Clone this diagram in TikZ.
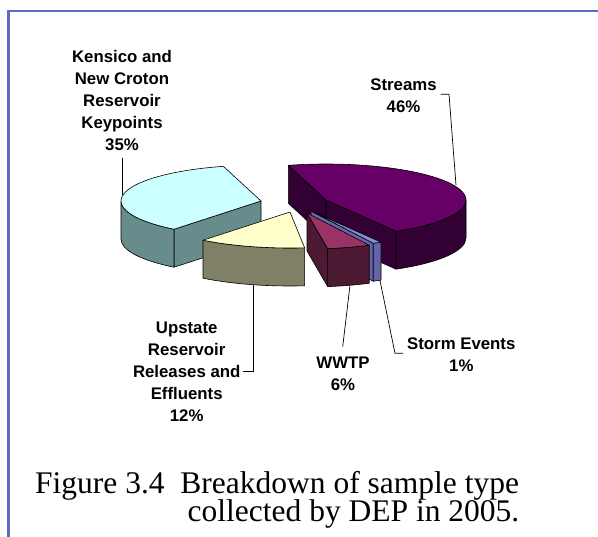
\documentclass[tikz,border=0pt]{standalone}
\usepackage{fontspec}
\setmainfont{Liberation Serif}
\newfontfamily\lblfont{Liberation Sans}
\definecolor{kensTop}{RGB}{204,255,255}
\definecolor{kensSide}{RGB}{102,140,140}
\definecolor{strTop}{RGB}{102,0,102}
\definecolor{strSide}{RGB}{51,0,51}
\definecolor{upTop}{RGB}{255,255,204}
\definecolor{upSide}{RGB}{128,128,102}
\definecolor{wwTop}{RGB}{153,51,102}
\definecolor{wwSide}{RGB}{77,26,51}
\definecolor{stTop}{RGB}{140,140,220}
\definecolor{stSide}{RGB}{100,100,170}
\definecolor{frameblue}{RGB}{92,106,206}
\tikzset{
  face/.style={draw=black, line width=0.6pt, line join=round},
  lbl/.style={font=\lblfont\bfseries\fontsize{16.8}{22}\selectfont, align=center, inner sep=0pt},
  leader/.style={draw=black, line width=0.7pt},
  captext/.style={font=\fontsize{31.5}{31.5}\selectfont, inner sep=0pt},
}
\begin{document}
\begin{tikzpicture}[x=1pt, y=-1pt]
\useasboundingbox (0,0) rectangle (598,537);
% frame
\draw[frameblue, line width=2.4pt] (8.3,537) -- (8.3,11) -- (598,11);

% Kensico slice
\begin{scope}[shift={(261,201)}, y={(0,1pt)}]
  \path[face, fill=kensSide] (0,0) -- (231.6:140pt and 36pt) -- ++(0,-38) -- (0,-38) -- cycle;
  \path[face, fill=kensSide] (180:140pt and 36pt) arc[start angle=180, end angle=231.6, x radius=140pt, y radius=36pt] -- ++(0,-38) arc[start angle=231.6, end angle=180, x radius=140pt, y radius=36pt] -- cycle;
  \path[face, fill=kensTop] (0,0) -- (105.6:140pt and 36pt) arc[start angle=105.6, end angle=231.6, x radius=140pt, y radius=36pt] -- cycle;
\end{scope}

% Streams slice
\begin{scope}[shift={(326,200)}, y={(0,1pt)}]
  \path[face, fill=strSide] (0,0) -- (105.6:140pt and 36pt) -- ++(0,-38) -- (0,-38) -- cycle;
  \path[face, fill=strSide] (0,0) -- (-60:140pt and 36pt) -- ++(0,-38) -- (0,-38) -- cycle;
  \path[face, fill=strSide] (-60:140pt and 36pt) arc[start angle=-60, end angle=0, x radius=140pt, y radius=36pt] -- ++(0,-38) arc[start angle=0, end angle=-60, x radius=140pt, y radius=36pt] -- cycle;
  \path[face, fill=strTop] (0,0) -- (-60:140pt and 36pt) arc[start angle=-60, end angle=105.6, x radius=140pt, y radius=36pt] -- cycle;
\end{scope}

% Storm Events slice
\begin{scope}[shift={(311,211)}, y={(0,1pt)}]
  \path[face, fill=stSide] (0,0) -- (296.4:140pt and 36pt) -- ++(0,-38) -- (0,-38) -- cycle;
  \path[face, fill=stSide] (296.4:140pt and 36pt) arc[start angle=296.4, end angle=300, x radius=140pt, y radius=36pt] -- ++(0,-38) arc[start angle=300, end angle=296.4, x radius=140pt, y radius=36pt] -- cycle;
  \path[face, fill=stTop] (0,0) -- (296.4:140pt and 36pt) arc[start angle=296.4, end angle=300, x radius=140pt, y radius=36pt] -- cycle;
\end{scope}

% WWTP slice
\begin{scope}[shift={(307,213)}, y={(0,1pt)}]
  \path[face, fill=wwSide] (0,0) -- (278.5:140pt and 36pt) -- ++(0,-38) -- (0,-38) -- cycle;
  \path[face, fill=wwSide] (278.5:140pt and 36pt) arc[start angle=278.5, end angle=296.4, x radius=140pt, y radius=36pt] -- ++(0,-38) arc[start angle=296.4, end angle=278.5, x radius=140pt, y radius=36pt] -- cycle;
  \path[face, fill=wwTop] (0,0) -- (278.5:140pt and 36pt) arc[start angle=278.5, end angle=296.4, x radius=140pt, y radius=36pt] -- cycle;
\end{scope}

% Upstate slice
\begin{scope}[shift={(290,212)}, y={(0,1pt)}]
  \path[face, fill=upSide] (231.6:140pt and 36pt) arc[start angle=231.6, end angle=276, x radius=140pt, y radius=36pt] -- ++(0,-38) arc[start angle=276, end angle=231.6, x radius=140pt, y radius=36pt] -- cycle;
  \path[face, fill=upTop] (0,0) -- (231.6:140pt and 36pt) arc[start angle=231.6, end angle=276, x radius=140pt, y radius=36pt] -- cycle;
\end{scope}

% labels
\node[lbl] (kensLbl) at (122,100.5) {Kensico and\\New Croton\\Reservoir\\Keypoints\\35\%};
\node[lbl] (strLbl) at (403.5,95.5) {Streams\\46\%};
\node[lbl] (upLbl) at (186.7,371.5) {Upstate\\Reservoir\\Releases and\\Effluents\\12\%};
\node[lbl] (wwLbl) at (343,373.4) {WWTP\\6\%};
\node[lbl] (stLbl) at (461.3,354.7) {Storm Events\\1\%};

% leader points
\coordinate (kensTick) at (122.7,158);
\coordinate (kensRim) at (122.7,195);
\coordinate (strTick) at (440.7,94.3);
\coordinate (strBend) at (449,94.3);
\coordinate (strRim) at (456,185);
\coordinate (upTick) at (242.7,371.7);
\coordinate (upBend) at (253.3,371.7);
\coordinate (upRim) at (253.3,285);
\coordinate (wwTick) at (342.7,346.7);
\coordinate (wwRim) at (350,285.3);
\coordinate (stTick) at (403,353.3);
\coordinate (stBend) at (395,353.3);
\coordinate (stRim) at (380,280.5);

\path[leader] (kensTick) -- (kensRim);
\path[leader] (strTick) -- (strBend) -- (strRim);
\path[leader] (upTick) -- (upBend) -- (upRim);
\path[leader] (wwTick) -- (wwRim);
\path[leader] (stTick) -- (stBend) -- (stRim);

% caption
\node[captext, anchor=base west] (cap1) at (35,493.3) {Figure 3.4\hspace{0.5em}Breakdown of sample type};
\node[captext, anchor=base east] (cap2) at (519.5,521.7) {collected by DEP in 2005.};
\end{tikzpicture}
\end{document}
